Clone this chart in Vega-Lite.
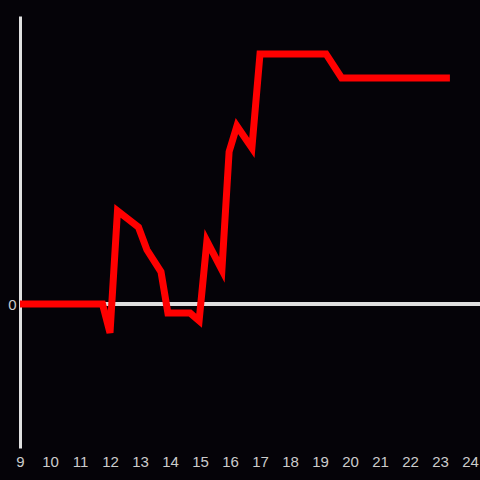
{
  "$schema": "https://vega.github.io/schema/vega-lite/v6.json",
  "autosize": "none",
  "width": 460,
  "height": 432,
  "padding": {"left": 20, "top": 16, "right": 0, "bottom": 32},
  "background": "#050308",
  "config": {"view": {"stroke": null}, "font": "Liberation Sans"},
  "data": {"values": [
    {"x": 9.0, "y": 0},
    {"x": 11.75, "y": 0},
    {"x": 12.0, "y": -0.6},
    {"x": 12.25, "y": 1.94},
    {"x": 12.6, "y": 1.77},
    {"x": 12.95, "y": 1.6},
    {"x": 13.23, "y": 1.13},
    {"x": 13.7, "y": 0.67},
    {"x": 13.93, "y": -0.19},
    {"x": 14.67, "y": -0.19},
    {"x": 14.97, "y": -0.35},
    {"x": 15.23, "y": 1.31},
    {"x": 15.73, "y": 0.71},
    {"x": 15.97, "y": 3.17},
    {"x": 16.23, "y": 3.71},
    {"x": 16.73, "y": 3.25},
    {"x": 17.0, "y": 5.21},
    {"x": 17.1, "y": 5.21},
    {"x": 19.2, "y": 5.21},
    {"x": 19.72, "y": 4.71},
    {"x": 23.33, "y": 4.71}
  ]},
  "layer": [
    {
      "mark": {"type": "rule", "color": "#e0e0e0", "strokeWidth": 3},
      "encoding": {"y": {"datum": 0, "type": "quantitative", "scale": {"domain": [-3, 6]}}}
    },
    {
      "mark": {"type": "line", "color": "#ff0000", "strokeWidth": 7, "strokeJoin": "miter", "strokeCap": "butt"},
      "encoding": {
        "x": {"field": "x", "type": "quantitative",
          "scale": {"domain": [9, 24.3333], "nice": false, "zero": false},
          "axis": {"values": [9,10,11,12,13,14,15,16,17,18,19,20,21,22,23,24], "domain": false, "ticks": false, "grid": false, "title": null, "labelColor": "#cccccc", "labelFontSize": 15, "labelPadding": 6, "labelFlush": false, "labelOverlap": false}},
        "y": {"field": "y", "type": "quantitative",
          "scale": {"domain": [-3, 6], "nice": false},
          "axis": {"values": [0], "domain": true, "domainColor": "#e0e0e0", "domainWidth": 3, "ticks": false, "grid": false, "title": null, "labelColor": "#cccccc", "labelFontSize": 15, "labelPadding": 4}}
      }
    }
  ]
}
